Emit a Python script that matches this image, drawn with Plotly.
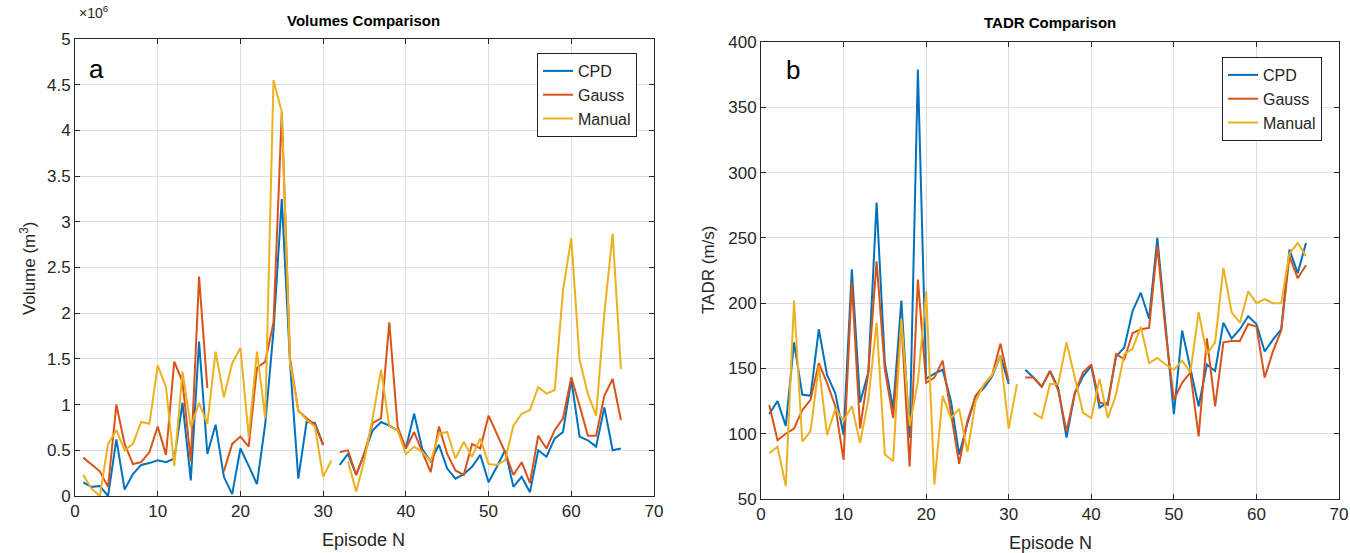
import plotly.graph_objects as go

nan = None
episodes = list(range(1, 67))

# Volumes (x 10^6 m^3)
vol_cpd = [0.15, 0.10, 0.11, 0.00, 0.62, 0.07, 0.24, 0.34, 0.36, 0.39,
           0.37, 0.41, 1.02, 0.17, 1.69, 0.46, 0.78, 0.21, 0.02, 0.52,
           0.33, 0.13, 0.79, 1.81, 3.25, 1.45, 0.19, 0.81, 0.80, 0.56,
           nan, 0.34, 0.46, 0.23, 0.48, 0.72, 0.81, 0.77, 0.72, 0.52,
           0.90, 0.51, 0.38, 0.56, 0.30, 0.19, 0.24, 0.32, 0.45, 0.15,
           0.32, 0.50, 0.10, 0.21, 0.04, 0.50, 0.43, 0.63, 0.70, 1.27,
           0.65, 0.61, 0.54, 0.97, 0.50, 0.52]
vol_gauss = [0.42, 0.34, 0.27, 0.10, 1.00, 0.57, 0.35, 0.37, 0.48, 0.76,
             0.45, 1.47, 1.25, 0.38, 2.40, 1.18, nan, 0.27, 0.57, 0.65,
             0.54, 1.40, 1.47, 1.90, 4.20, 1.50, 0.93, 0.85, 0.78, 0.56,
             nan, 0.48, 0.50, 0.23, 0.47, 0.80, 0.85, 1.90, 0.76, 0.52,
             0.70, 0.48, 0.26, 0.76, 0.46, 0.28, 0.23, 0.57, 0.52, 0.88,
             0.68, 0.48, 0.23, 0.37, 0.14, 0.66, 0.52, 0.72, 0.85, 1.30,
             0.99, 0.66, 0.66, 1.10, 1.28, 0.83]
vol_manual = [0.23, 0.08, 0.00, 0.57, 0.72, 0.50, 0.57, 0.81, 0.79, 1.43,
              1.19, 0.33, 1.36, 0.75, 1.02, 0.79, 1.58, 1.08, 1.45, 1.62,
              0.65, 1.58, 0.85, 4.55, 4.20, 1.45, 0.94, 0.83, 0.76, 0.21,
              0.39, nan, 0.38, 0.05, 0.40, 0.86, 1.38, 0.76, 0.72, 0.46,
              0.54, 0.48, 0.38, 0.68, 0.70, 0.41, 0.59, 0.43, 0.63, 0.35,
              0.34, 0.39, 0.77, 0.90, 0.94, 1.19, 1.12, 1.16, 2.25, 2.82,
              1.49, 1.12, 0.88, 2.00, 2.87, 1.39]

# TADR (m/s)
tadr_cpd = [115, 125, 106, 170, 130, 129, 180, 145, 131, 99,
            226, 124, 147, 277, 154, 119, 202, 97, 379, 142,
            146, 149, 125, 84, 108, 129, 135, 144, 160, 138,
            nan, 149, 143, 136, 148, 135, 97, 131, 144, 152,
            120, 124, 159, 166, 194, 208, 188, 250, 183, 115,
            179, 149, 121, 153, 148, 185, 173, 180, 190, 184,
            163, 172, 180, 241, 223, 246]
tadr_gauss = [122, 95, 100, 104, 118, 126, 154, 139, 121, 80,
              216, 104, 147, 232, 149, 112, 186, 75, 218, 139,
              143, 156, 116, 77, 110, 129, 137, 145, 169, 140,
              nan, 143, 143, 136, 148, 133, 102, 131, 147, 153,
              124, 122, 161, 157, 177, 180, 181, 244, 178, 126,
              139, 147, 98, 173, 121, 170, 171, 171, 184, 182,
              143, 163, 179, 236, 219, 229]
tadr_manual = [85, 90, 60, 202, 94, 102, 152, 99, 119, 110,
               121, 93, 126, 185, 84, 79, 188, 106, 140, 209,
               61, 129, 112, 119, 86, 125, 138, 145, 160, 104,
               138, nan, 116, 112, 138, 138, 170, 144, 116, 112,
               142, 112, 130, 161, 165, 182, 154, 158, 153, 149,
               156, 147, 193, 161, 170, 227, 193, 185, 209, 200,
               203, 200, 200, 238, 246, 236]

series_names = ["CPD", "Gauss", "Manual"]
colors = ["#0072BD", "#D95319", "#EDB120"]

W, H = 1350, 553
FONT = "Liberation Sans, Arial, sans-serif"
TXT = "#262626"

def px(x):
    return x / W

def py(y):
    return (H - y) / H

fig = go.Figure()
for name, col, vals in zip(series_names, colors, [vol_cpd, vol_gauss, vol_manual]):
    fig.add_trace(go.Scatter(x=episodes, y=vals, mode="lines", name=name,
                             line=dict(color=col, width=2), xaxis="x", yaxis="y",
                             legend="legend", connectgaps=False))
for name, col, vals in zip(series_names, colors, [tadr_cpd, tadr_gauss, tadr_manual]):
    fig.add_trace(go.Scatter(x=episodes, y=vals, mode="lines", name=name,
                             line=dict(color=col, width=2), xaxis="x2", yaxis="y2",
                             legend="legend2", connectgaps=False))

axis_common = dict(showline=True, linecolor=TXT, linewidth=1, mirror="ticks",
                   ticks="inside", ticklen=5, tickcolor=TXT, showgrid=True,
                   gridcolor="#dedede", gridwidth=1, zeroline=False, automargin=False,
                   tickfont=dict(family=FONT, size=17, color=TXT))

vol_ticks = [0, 0.5, 1, 1.5, 2, 2.5, 3, 3.5, 4, 4.5, 5]
vol_tick_text = ["0", "0.5", "1", "1.5", "2", "2.5", "3", "3.5", "4", "4.5", "5"]

fig.update_layout(
    width=W, height=H, autosize=False,
    margin=dict(l=0, r=0, t=0, b=0, pad=0, autoexpand=False),
    paper_bgcolor="white", plot_bgcolor="white",
    font=dict(family=FONT, color=TXT),
    xaxis=dict(domain=[px(75), px(654)], range=[0, 70], tickmode="linear", tick0=0, dtick=10,
               anchor="y", **axis_common),
    yaxis=dict(domain=[py(496), py(39)], range=[0, 5], tickvals=vol_ticks, ticktext=vol_tick_text,
               anchor="x", **axis_common),
    xaxis2=dict(domain=[px(761), px(1339)], range=[0, 70], tickmode="linear", tick0=0, dtick=10,
                anchor="y2", **axis_common),
    yaxis2=dict(domain=[py(499), py(42)], range=[50, 400], tickmode="linear", tick0=50, dtick=50,
                anchor="x2", **axis_common),
    legend=dict(x=px(637), xanchor="right", y=py(53), yanchor="top",
                bgcolor="white", bordercolor="#222222", borderwidth=1,
                font=dict(family=FONT, size=16, color=TXT), tracegroupgap=0),
    legend2=dict(x=px(1322), xanchor="right", y=py(57), yanchor="top",
                 bgcolor="white", bordercolor="#222222", borderwidth=1,
                 font=dict(family=FONT, size=16, color=TXT), tracegroupgap=0),
    showlegend=True,
)

def ann(text, x, y, size, color=TXT, angle=0, xanchor="center"):
    return dict(text=text, x=px(x), y=py(y), xref="paper", yref="paper",
                xanchor=xanchor, yanchor="middle", showarrow=False, textangle=angle,
                font=dict(family=FONT, size=size, color=color))

annotations = [
    ann("<b>Volumes Comparison</b>", 364, 20, 15, "black"),
    ann("<b>TADR Comparison</b>", 1050, 22, 15, "black"),
    ann("Episode N", 364, 540, 18),
    ann("Episode N", 1050, 543, 18),
    ann("Volume (m<sup>3</sup>)", 28, 268, 17, angle=-90),
    ann("TADR (m/s)", 708, 270, 17, angle=-90),
    ann("\u00d710<sup>6</sup>", 77, 12, 14, xanchor="left"),
    ann("a", 96, 69, 26, "black"),
    ann("b", 793, 70, 26, "black"),
]
fig.update_layout(annotations=annotations)

fig.write_html("out.html")
